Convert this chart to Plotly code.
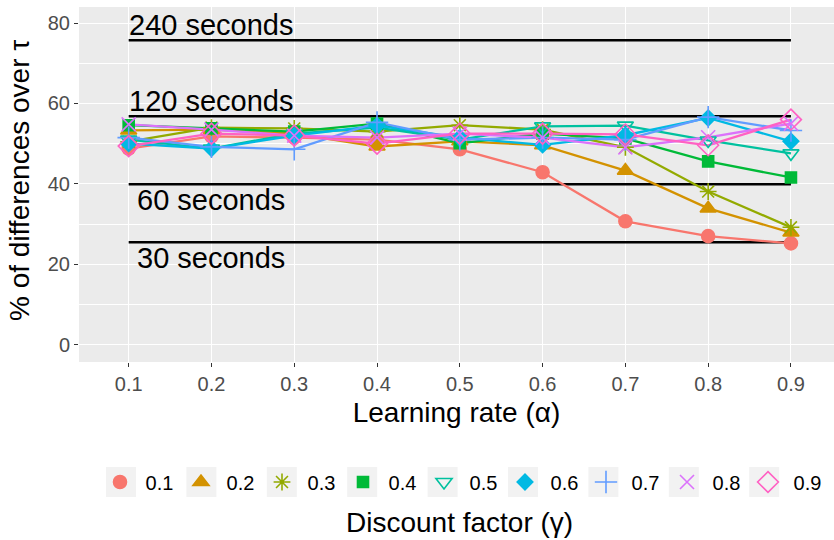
import plotly.graph_objects as go

# Learning rate values (x) and discount factor groups
learning_rate = [0.1, 0.2, 0.3, 0.4, 0.5, 0.6, 0.7, 0.8, 0.9]
gamma_labels = ["0.1", "0.2", "0.3", "0.4", "0.5", "0.6", "0.7", "0.8", "0.9"]

# % of differences over tau, one list per discount factor
g01 = [48.8, 51.8, 51.5, 51.0, 48.6, 42.9, 30.7, 27.0, 25.2]
g02 = [53.3, 53.5, 52.5, 49.3, 50.6, 49.6, 43.3, 33.9, 27.9]
g03 = [50.5, 54.0, 53.8, 53.0, 54.6, 53.5, 49.1, 38.1, 29.2]
g04 = [54.6, 53.8, 53.0, 55.0, 50.1, 52.5, 51.3, 45.6, 41.6]
g05 = [51.0, 48.8, 52.5, 54.0, 51.0, 54.3, 54.5, 50.8, 47.6]
g06 = [50.0, 48.8, 52.0, 54.5, 51.5, 49.7, 52.1, 56.4, 50.6]
g07 = [51.5, 49.2, 48.6, 55.3, 51.0, 51.5, 51.0, 56.6, 53.3]
g08 = [54.8, 53.5, 52.0, 51.5, 52.5, 51.5, 49.1, 51.6, 55.0]
g09 = [49.4, 52.5, 52.0, 50.0, 52.5, 52.5, 52.3, 49.6, 56.0]
series = [g01, g02, g03, g04, g05, g06, g07, g08, g09]

# Time-budget reference levels
budget_labels = ["240 seconds", "120 seconds", "60 seconds", "30 seconds"]
budget_levels = [75.7, 56.8, 39.9, 25.5]
budget_span = [0.1, 0.9]
label_x = 0.2

colors = ["#F8766D", "#D39200", "#93AA00", "#00BA38", "#00C19F",
          "#00B9E3", "#619CFF", "#DB72FB", "#FF61C3"]
symbols = ["circle", "triangle-up", "asterisk-open", "square", "triangle-down-open",
           "diamond", "cross-thin-open", "x-thin-open", "diamond-open"]
sizes = [13, 14, 14, 11, 14, 12, 16, 14, 16]

FONT = "Liberation Sans, Arial, Helvetica, sans-serif"

# Plot area geometry (pixels) used to place items outside the panel
W, H = 834, 540
ML, MR, MT, MB = 79, 0, 7, 178
PW, PH = W - ML - MR, H - MT - MB


def px_to_paper(px, py):
    return (px - ML) / PW, (H - MB - py) / PH


fig = go.Figure()

# Horizontal budget lines
for lvl in budget_levels:
    fig.add_trace(go.Scatter(
        x=budget_span, y=[lvl, lvl], mode="lines",
        line=dict(color="black", width=2.5),
        showlegend=False, hoverinfo="skip"))

# Lines for each discount factor
for vals, col in zip(series, colors):
    fig.add_trace(go.Scatter(
        x=learning_rate, y=vals, mode="lines",
        line=dict(color=col, width=2.3),
        showlegend=False, hoverinfo="skip"))

# Points for each discount factor (these carry the legend)
for vals, col, sym, sz, name in zip(series, colors, symbols, sizes, gamma_labels):
    fig.add_trace(go.Scatter(
        x=learning_rate, y=vals, mode="markers", name=" " + name,
        marker=dict(color=col, symbol=sym, size=sz,
                    line=dict(color=col, width=1.6))))

# Budget text labels
for i, (lbl, lvl) in enumerate(zip(budget_labels, budget_levels)):
    above = i < 2
    fig.add_annotation(
        x=label_x, y=lvl, text=lbl, showarrow=False,
        xanchor="center", yanchor="bottom" if above else "top",
        yshift=-3 if above else 2,
        font=dict(family=FONT, size=29, color="black"))

# Legend layout: one row, keys every ~80 px
LEG_Y = 482
KEY0_X = 121
KEY_STEP = 80.4
KEY_HALF = 15

# Light grey key backgrounds behind the legend symbols
for k in range(len(gamma_labels)):
    cx = KEY0_X + k * KEY_STEP
    x0, y0 = px_to_paper(cx - KEY_HALF, LEG_Y + KEY_HALF)
    x1, y1 = px_to_paper(cx + KEY_HALF, LEG_Y - KEY_HALF)
    fig.add_shape(type="rect", xref="paper", yref="paper",
                  x0=x0, x1=x1, y0=y0, y1=y1,
                  fillcolor="#F2F2F2", line=dict(width=0), layer="below")

# Legend title under the legend
tx, ty = px_to_paper(460, 522)
fig.add_annotation(
    x=tx, y=ty, xref="paper", yref="paper",
    text="Discount factor (γ)", showarrow=False,
    xanchor="center", yanchor="middle",
    font=dict(family=FONT, size=28, color="black"))

# Y axis title, placed close to the left edge
yx, yy = px_to_paper(19, 181)
fig.add_annotation(
    x=yx, y=yy, xref="paper", yref="paper",
    text="% of differences over τ", showarrow=False, textangle=-90,
    xanchor="center", yanchor="middle",
    font=dict(family=FONT, size=28, color="black"))

axis_common = dict(
    showline=False, zeroline=False,
    gridcolor="white", gridwidth=1.4,
    ticks="outside", ticklen=4, tickwidth=1.1, tickcolor="#333333",
    tickfont=dict(family=FONT, size=20, color="#4D4D4D"),
)

fig.update_layout(
    width=W, height=H,
    margin=dict(l=ML, r=MR, t=MT, b=MB),
    paper_bgcolor="white", plot_bgcolor="#EBEBEB",
    font=dict(family=FONT),
    xaxis=dict(
        axis_common, range=[0.04, 0.952],
        tickvals=learning_rate, ticktext=[f"{v:.1f}" for v in learning_rate],
        title=dict(text="Learning rate (α)", font=dict(family=FONT, size=28, color="black"),
                   standoff=8),
    ),
    yaxis=dict(
        axis_common, range=[-4.3, 84.0],
        tickvals=[0, 20, 40, 60, 80],
        minor=dict(dtick=10, tick0=0, showgrid=True, gridcolor="white", gridwidth=0.7, ticks=""),
    ),
    legend=dict(
        orientation="h", xref="container", yref="container",
        x=(KEY0_X - 21) / W, y=1 - LEG_Y / H, xanchor="left", yanchor="middle",
        font=dict(family=FONT, size=20, color="black"),
        entrywidth=36, entrywidthmode="pixels",
        bgcolor="rgba(0,0,0,0)", itemsizing="trace",
    ),
)

fig.write_html("out.html")
